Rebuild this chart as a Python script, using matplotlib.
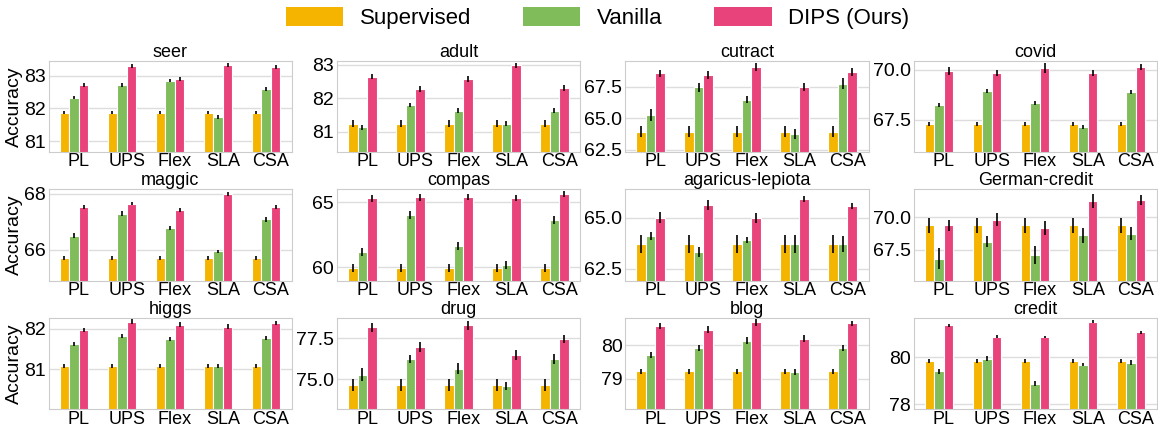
import numpy as np
import matplotlib
matplotlib.use("Agg")
import matplotlib.pyplot as plt
from matplotlib.patches import Patch

plt.rcParams['font.family'] = ['Liberation Sans', 'DejaVu Sans']

methods = ["PL", "UPS", "Flex", "SLA", "CSA"]
datasets = ["seer", "adult", "cutract", "covid",
            "maggic", "compas", "agaricus-lepiota", "German-credit",
            "higgs", "drug", "blog", "credit"]

# supervised baseline (same for every method)
supervised = [81.87, 81.25, 63.92, 67.31, 65.68, 59.92, 63.70, 69.39, 81.08, 74.67, 79.22, 79.83]
supervised_err = [0.05, 0.09, 0.45, 0.10, 0.07, 0.30, 0.45, 0.60, 0.05, 0.35, 0.08, 0.07]

vanilla = [
    [82.33, 82.72, 82.85, 81.74, 82.60],
    [81.14, 81.80, 81.63, 81.25, 81.63],
    [65.25, 67.45, 66.46, 63.73, 67.74],
    [68.23, 68.95, 68.34, 67.15, 68.90],
    [66.50, 67.29, 66.78, 65.94, 67.09],
    [61.17, 64.02, 61.63, 60.16, 63.63],
    [64.11, 63.32, 63.91, 63.70, 63.70],
    [66.79, 68.13, 67.10, 68.60, 68.74],
    [81.63, 81.83, 81.76, 81.08, 81.78],
    [75.28, 76.24, 75.65, 74.59, 76.24],
    [79.71, 79.92, 80.14, 79.20, 79.92],
    [79.40, 79.93, 78.87, 79.67, 79.76],
]
vanilla_err = [
    [0.05, 0.05, 0.05, 0.05, 0.05],
    [0.07, 0.07, 0.07, 0.07, 0.08],
    [0.45, 0.35, 0.30, 0.40, 0.40],
    [0.10, 0.10, 0.10, 0.10, 0.10],
    [0.08, 0.08, 0.08, 0.05, 0.09],
    [0.30, 0.30, 0.30, 0.30, 0.30],
    [0.20, 0.25, 0.15, 0.45, 0.40],
    [0.80, 0.45, 0.70, 0.60, 0.50],
    [0.05, 0.05, 0.05, 0.05, 0.05],
    [0.40, 0.25, 0.35, 0.25, 0.30],
    [0.10, 0.10, 0.10, 0.10, 0.08],
    [0.10, 0.10, 0.10, 0.06, 0.10],
]

dips = [
    [82.73, 83.31, 82.91, 83.34, 83.26],
    [82.64, 82.27, 82.57, 82.98, 82.30],
    [68.54, 68.41, 69.05, 67.45, 68.65],
    [69.95, 69.85, 70.07, 69.85, 70.12],
    [67.54, 67.65, 67.42, 68.00, 67.53],
    [65.28, 65.36, 65.39, 65.31, 65.62],
    [65.00, 65.63, 64.97, 65.92, 65.56],
    [69.39, 69.82, 69.21, 71.29, 71.39],
    [81.97, 82.18, 82.11, 82.06, 82.14],
    [78.15, 76.97, 78.27, 76.50, 77.46],
    [80.57, 80.46, 80.68, 80.20, 80.65],
    [81.35, 80.87, 80.85, 81.50, 81.05],
]
dips_err = [
    [0.06, 0.07, 0.07, 0.06, 0.06],
    [0.08, 0.08, 0.08, 0.08, 0.08],
    [0.30, 0.30, 0.30, 0.30, 0.30],
    [0.20, 0.15, 0.25, 0.15, 0.15],
    [0.07, 0.06, 0.07, 0.06, 0.08],
    [0.25, 0.25, 0.25, 0.25, 0.25],
    [0.25, 0.25, 0.25, 0.15, 0.15],
    [0.45, 0.50, 0.55, 0.55, 0.40],
    [0.05, 0.06, 0.05, 0.06, 0.05],
    [0.25, 0.30, 0.25, 0.30, 0.25],
    [0.10, 0.10, 0.10, 0.10, 0.08],
    [0.06, 0.06, 0.06, 0.05, 0.06],
]

ylims = [(80.66, 83.46), (80.4, 83.11), (62.31, 69.53), (65.88, 70.44),
         (64.88, 68.16), (58.96, 65.96), (61.92, 66.37), (65.08, 72.18),
         (80.0, 82.27), (73.19, 78.72), (78.09, 80.81), (77.79, 81.65)]
yticks = [[81, 82, 83], [81, 82, 83], [62.5, 65.0, 67.5], [67.5, 70.0],
          [66, 68], [60, 65], [62.5, 65.0], [67.5, 70.0],
          [81, 82], [75.0, 77.5], [79, 80], [78, 80]]

colors = ["#F4B400", "#80BC5A", "#E8437A"]
labels = ["Supervised", "Vanilla", "DIPS (Ours)"]

fig, axes = plt.subplots(3, 4, figsize=(11.58, 4.29), dpi=100)
plt.subplots_adjust(left=0.042, right=0.999, bottom=0.046, top=0.858,
                     wspace=0.185, hspace=0.41)

x = np.arange(len(methods))
w = 0.2
for i, ax in enumerate(axes.flat):
    sup = [supervised[i]] * len(methods)
    sup_e = [supervised_err[i]] * len(methods)
    series = [(sup, sup_e), (vanilla[i], vanilla_err[i]), (dips[i], dips_err[i])]
    for k, (vals, errs) in enumerate(series):
        ax.bar(x + (k - 1) * w, vals, width=w, color=colors[k],
               edgecolor="white", linewidth=0.8, zorder=2)
        ax.errorbar(x + (k - 1) * w, vals, yerr=errs, fmt="none",
                    ecolor="black", elinewidth=1.2, capsize=0, zorder=3)
    ax.set_xlim(-0.53, 4.54)
    ax.set_ylim(*ylims[i])
    ax.set_yticks(yticks[i])
    ax.set_xticks(x + 0.1)
    ax.set_xticklabels(methods)
    ax.set_title(datasets[i], fontsize=13, pad=3)
    ax.grid(axis="y", color="#dddddd", linewidth=1, zorder=0)
    ax.set_axisbelow(True)
    for s in ax.spines.values():
        s.set_color("#cccccc")
    ax.tick_params(axis="both", length=0)
    ax.tick_params(axis="x", pad=1, labelsize=13)
    ax.tick_params(axis="y", pad=2, labelsize=14)
    if i % 4 == 0:
        ax.set_ylabel("Accuracy", fontsize=14, labelpad=1)

handles = [Patch(facecolor=c, label=l) for c, l in zip(colors, labels)]
fig.legend(handles=handles, loc="center", bbox_to_anchor=(0.516, 0.958),
           ncol=3, frameon=False, fontsize=16, handlelength=2.6,
           handleheight=0.9, handletextpad=0.75, columnspacing=2.3)

plt.savefig("out.png", dpi=100)
